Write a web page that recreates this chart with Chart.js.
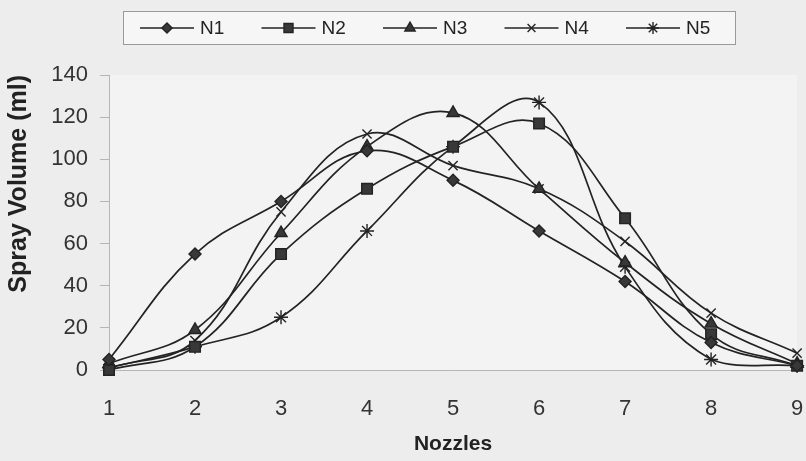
<!DOCTYPE html>
<html><head><meta charset="utf-8">
<script src="https://cdn.jsdelivr.net/npm/chart.js@4.4.0/dist/chart.umd.min.js"></script>
<style>html,body{margin:0;padding:0;background:#efefef}#wrap{width:806px;height:461px}</style>
</head><body><div id="wrap"><canvas id="c" width="806" height="461"></canvas></div>
<script>
const nozzles = ['1','2','3','4','5','6','7','8','9'];
const seriesNames = ['N1','N2','N3','N4','N5'];
const n1 = [5, 55, 80, 104, 90, 66, 42, 13, 2];
const n2 = [0, 11, 55, 86, 106, 117, 72, 17, 2];
const n3 = [3, 19, 65, 106, 122, 86, 51, 22, 3];
const n4 = [1, 14, 75, 112, 97, 86, 61, 27, 8];
const n5 = [1, 11, 25, 66, 106, 127, 49, 5, 2];
const yTicks = [0, 20, 40, 60, 80, 100, 120, 140];

const FONT = "'Liberation Sans', Arial, sans-serif";
const INK = '#232323';
const styles = [
  {pointStyle:'rectRot', radius:6},
  {pointStyle:'rect', radius:7.5},
  {pointStyle:'triangle', radius:7},
  {pointStyle:'crossRot', radius:6.5},
  {pointStyle:'star', radius:7}
];
const allData = [n1, n2, n3, n4, n5];

const datasets = allData.map((d, i) => ({
  label: seriesNames[i],
  data: d,
  borderColor: INK,
  borderWidth: 1.7,
  backgroundColor: '#333',
  pointBackgroundColor: '#383838',
  pointBorderColor: INK,
  pointBorderWidth: 1.4,
  pointStyle: styles[i].pointStyle,
  pointRadius: styles[i].radius,
  pointHoverRadius: styles[i].radius,
  tension: 0.4,
  fill: false,
  clip: false
}));

const bgPlugin = {
  id: 'bg',
  beforeDraw(chart) {
    const ctx = chart.ctx;
    ctx.save();
    ctx.fillStyle = '#ededed';
    ctx.fillRect(0, 0, chart.width, chart.height);
    const a = chart.chartArea;
    ctx.fillStyle = '#f3f3f3';
    ctx.fillRect(a.left, a.top, a.right - a.left, a.bottom - a.top);
    ctx.restore();
  }
};

const legendPlugin = {
  id: 'customLegend',
  afterDraw(chart) {
    const ctx = chart.ctx;
    ctx.save();
    ctx.fillStyle = '#f6f6f6';
    ctx.fillRect(123, 11, 612, 33);
    ctx.strokeStyle = '#9a9a9a';
    ctx.lineWidth = 1;
    ctx.strokeRect(123.5, 11.5, 612, 33);
    const cy = 28;
    chart.data.datasets.forEach((ds, i) => {
      const x0 = 140 + i * 121.5;
      const x1 = x0 + 54;
      ctx.strokeStyle = INK;
      ctx.lineWidth = 1.6;
      ctx.beginPath();
      ctx.moveTo(x0, cy);
      ctx.lineTo(x1, cy);
      ctx.stroke();
      ctx.fillStyle = '#383838';
      ctx.strokeStyle = INK;
      ctx.lineWidth = 1.4;
      Chart.helpers.drawPoint(ctx, {pointStyle: ds.pointStyle, radius: ds.pointRadius * 0.85, rotation: 0, borderWidth: 1.4}, (x0 + x1) / 2, cy);
      ctx.fillStyle = INK;
      ctx.font = "19px " + FONT;
      ctx.textBaseline = 'middle';
      ctx.textAlign = 'left';
      ctx.fillText(ds.label, x1 + 6, cy + 1);
    });
    ctx.restore();
  }
};

new Chart(document.getElementById('c'), {
  type: 'line',
  data: { labels: nozzles, datasets },
  options: {
    responsive: false,
    animation: false,
    devicePixelRatio: 1,
    layout: { padding: { top: 75, right: 6, bottom: 0, left: 0 } },
    plugins: { legend: { display: false }, tooltip: { enabled: false }, title: { display: false } },
    scales: {
      x: {
        type: 'category',
        offset: false,
        grid: { display: false, drawOnChartArea: false, drawTicks: true, tickLength: 8, tickColor: '#b5b5b5' },
        border: { display: true, color: '#b5b5b5', width: 1 },
        ticks: { color: '#333', font: { family: FONT, size: 22 }, padding: 18, maxRotation: 0, autoSkip: false },
        title: { display: true, text: 'Nozzles', color: '#222', font: { family: FONT, size: 21, weight: 'bold' }, padding: { top: 4, bottom: 4 } },
        afterFit(s) { s.height = 91; s.paddingRight = 6; s.paddingLeft = 0; }
      },
      y: {
        min: 0, max: 140,
        afterBuildTicks(s) { s.ticks = yTicks.map(v => ({ value: v })); },
        grid: { display: true, drawOnChartArea: false, drawTicks: true, tickLength: 9, tickColor: '#b5b5b5' },
        border: { display: true, color: '#b5b5b5', width: 1 },
        ticks: { color: '#333', font: { family: FONT, size: 22 }, padding: 12 },
        title: { display: true, text: 'Spray Volume (ml)', align: 'end', color: '#222', font: { family: FONT, size: 25, weight: 'bold' }, padding: { top: 4, bottom: 4 } },
        afterFit(s) { s.width = 109; }
      }
    }
  },
  plugins: [bgPlugin, legendPlugin]
});
</script></body></html>
